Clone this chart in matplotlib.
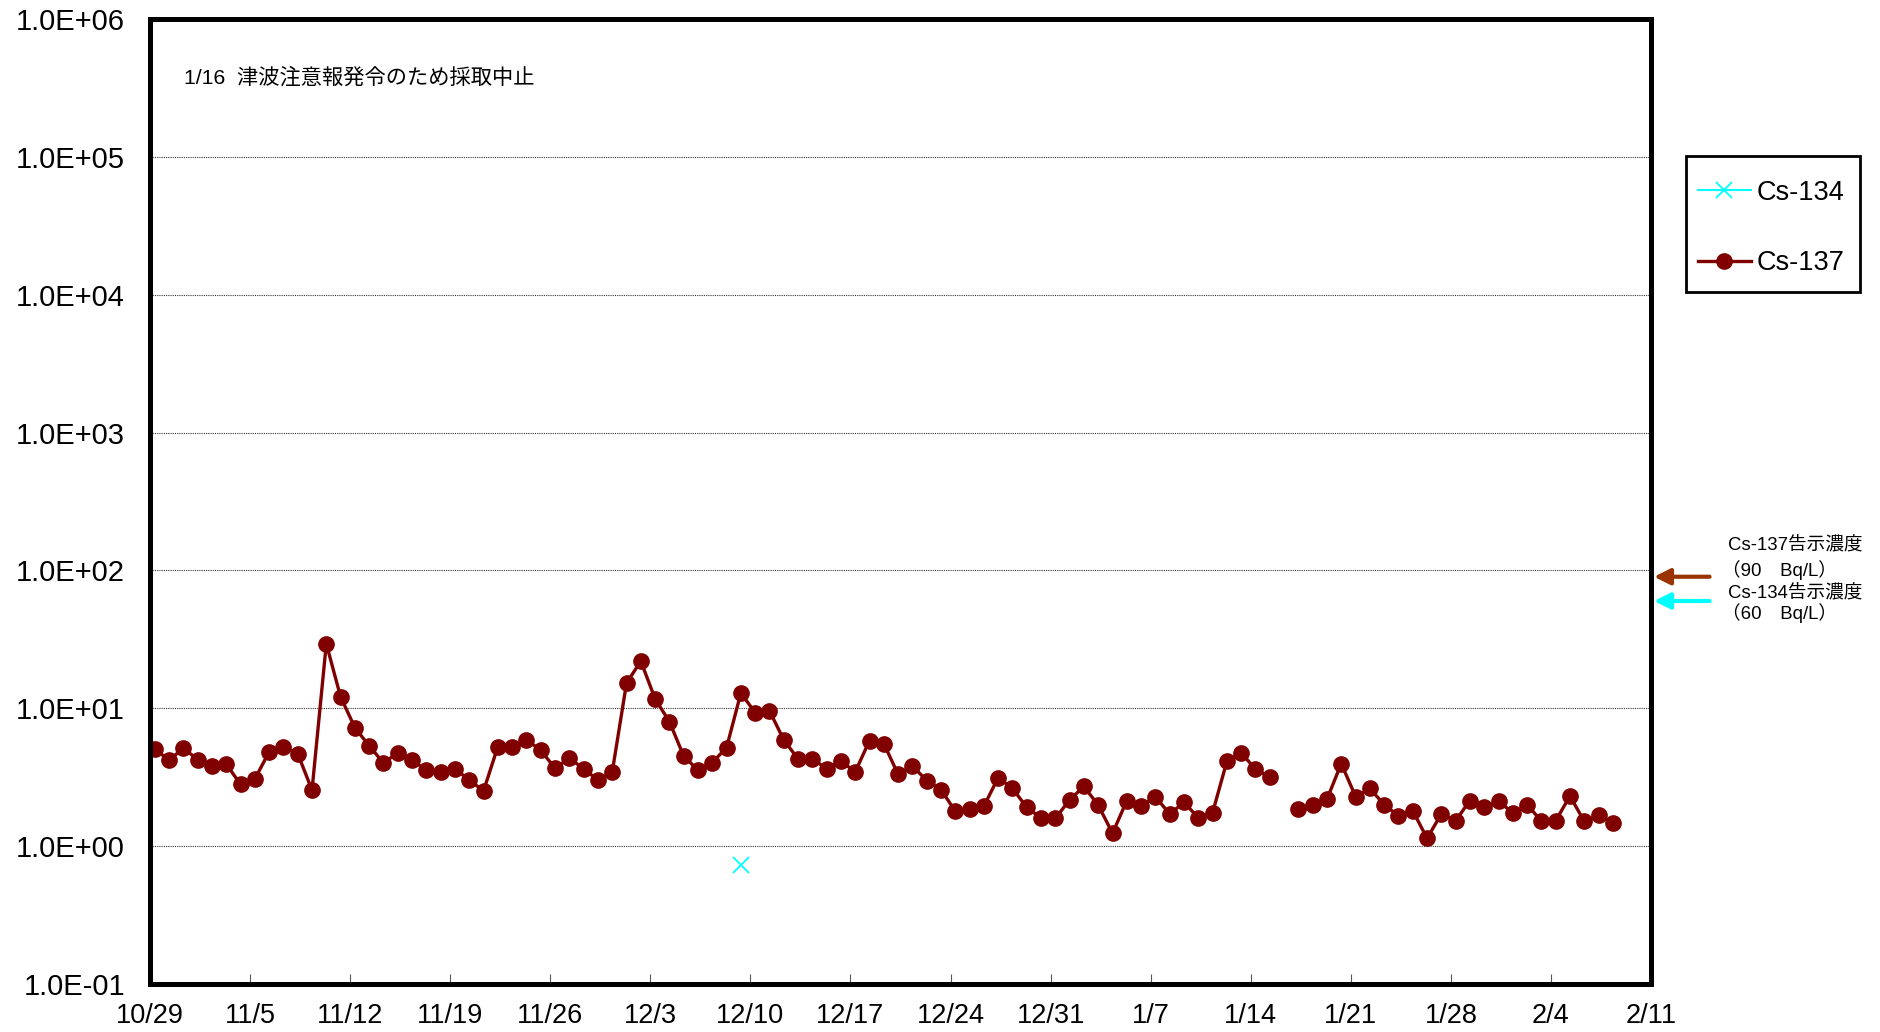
import numpy as np
import pandas as pd
import matplotlib
matplotlib.use("Agg")
import matplotlib.pyplot as plt
import matplotlib.dates as mdates
from matplotlib.ticker import FixedLocator, FuncFormatter, NullLocator
from matplotlib.lines import Line2D
from matplotlib.patches import Rectangle

plt.rcParams['font.family'] = ['Liberation Sans', 'Noto Sans CJK JP', 'DejaVu Sans']

# ---- data ----
start_date = "2021-10-29 08:00"   # daily sampling (morning)
cs137 = [5.07, 4.20, 5.13, 4.25, 3.84, 3.93, 2.81, 3.07, 4.83, 5.25,
         4.69, 2.55, 29.4, 12.1, 7.24, 5.33, 4.02, 4.75, 4.22, 3.55,
         3.46, 3.65, 3.01, 2.52, 5.27, 5.25, 5.93, 4.96, 3.67, 4.34,
         3.65, 3.01, 3.44, 15.2, 22.0, 11.7, 8.0, 4.51, 3.55, 4.04,
         5.19, 12.9, 9.3, 9.6, 5.90, 4.29, 4.29, 3.65, 4.13, 3.46,
         5.83, 5.54, 3.32, 3.82, 2.99, 2.57, 1.79, 1.85, 1.95, 3.14,
         2.62, 1.91, 1.60, 1.59, 2.17, 2.71, 1.98, 1.24, 2.14, 1.97,
         2.28, 1.71, 2.08, 1.60, 1.75, 4.13, 4.75, 3.61, 3.18, None,
         1.87, 2.00, 2.19, 3.97, 2.29, 2.62, 2.00, 1.66, 1.81, 1.14,
         1.71, 1.53, 2.14, 1.91, 2.14, 1.73, 2.00, 1.52, 1.53, 2.31,
         1.51, 1.67, 1.48]
cs134_dates = ["2021-12-09 08:00"]
cs134 = [0.73]

x_start = "2021-10-29"
x_end = "2022-02-11"
ytick_vals = [1e-1, 1e0, 1e1, 1e2, 1e3, 1e4, 1e5, 1e6]
limit_cs137 = 90
limit_cs134 = 60
note_text = "1/16  津波注意報発令のため採取中止"

dates = pd.date_range(start_date, periods=len(cs137), freq="D")
y137 = np.array([np.nan if v is None else v for v in cs137], dtype=float)
d134 = pd.to_datetime(cs134_dates)

# ---- figure ----
W, H = 1881, 1032
fig = plt.figure(figsize=(W / 100, H / 100), dpi=100)
L, R, T, B = 150, 1651, 19, 984
ax = fig.add_axes([L / W, 1 - B / H, (R - L) / W, (B - T) / H])

c134 = '#00FFFF'
c137 = '#800000'
ax.plot(d134, cs134, color=c134, marker='x', markersize=11,
        markeredgewidth=1.3, linewidth=1.5, linestyle='-')
ax.plot(dates, y137, color=c137, marker='o', markersize=11,
        linewidth=2.4, linestyle='-')

ax.set_yscale('log')
ax.set_ylim(1e-1, 1e6)
ax.set_xlim(pd.Timestamp(x_start), pd.Timestamp(x_end))

ax.yaxis.set_major_locator(FixedLocator(ytick_vals))
ax.yaxis.set_minor_locator(NullLocator())
ax.yaxis.set_major_formatter(FuncFormatter(lambda v, p: "{:.1E}".format(v)))
ax.xaxis.set_major_locator(FixedLocator(
    mdates.date2num(pd.date_range(x_start, x_end, freq="7D"))))
ax.xaxis.set_major_formatter(FuncFormatter(
    lambda v, p: "{}/{}".format(mdates.num2date(v).month, mdates.num2date(v).day)))

ax.tick_params(axis='y', length=0, pad=18, labelsize=21)
ax.tick_params(axis='x', direction='in', length=7, width=0.8, color='#555555',
               pad=14, labelsize=19.5)

ax.yaxis.grid(True, which='major', linestyle=(0, (1, 1)), color='#333333',
              linewidth=0.8)
for s in ax.spines.values():
    s.set_linewidth(3.6)
    s.set_color('black')

# legend (frame drawn separately)
lx0, ly0, lx1, ly1 = 1686, 156, 1860, 292
fig.patches.append(Rectangle((lx0 / W, 1 - ly1 / H), (lx1 - lx0) / W,
                             (ly1 - ly0) / H, transform=fig.transFigure,
                             fill=False, edgecolor='black', linewidth=2.0))
handles = [Line2D([], [], color=c134, marker='x', markersize=11,
                  markeredgewidth=1.3, linewidth=1.5),
           Line2D([], [], color=c137, marker='o', markersize=11,
                  linewidth=2.4)]
leg = fig.legend(handles, ['Cs-134', 'Cs-137'], loc='center',
                 bbox_to_anchor=((lx0 + lx1 - 4) / 2 / W, 1 - (ly0 + ly1 + 8) / 2 / H),
                 fontsize=19.5, frameon=False, borderpad=0,
                 labelspacing=1.65, handlelength=1.96, handletextpad=0.2,
                 borderaxespad=0)

# note
fig.text(184 / W, 1 - 77 / H, note_text, fontsize=15.3, va='center', ha='left')

# limit arrows
ytr = ax.get_yaxis_transform()
for val, col in [(limit_cs137, '#993300'), (limit_cs134, c134)]:
    ax.annotate('', xy=(1.002, val), xycoords=ytr,
                xytext=(1.039, val), textcoords=ytr,
                arrowprops=dict(arrowstyle='-|>', color=col, lw=3,
                                mutation_scale=24, shrinkA=0, shrinkB=0),
                annotation_clip=False)

fs_lim = 13.4
fig.text(1728 / W, 1 - 546 / H, "Cs-137告示濃度", fontsize=fs_lim, va='center')
fig.text(1722 / W, 1 - 570 / H, "（{}　Bq/L）".format(limit_cs137), fontsize=fs_lim, va='center')
fig.text(1728 / W, 1 - 594 / H, "Cs-134告示濃度", fontsize=fs_lim, va='center')
fig.text(1722 / W, 1 - 613 / H, "（{}　Bq/L）".format(limit_cs134), fontsize=fs_lim, va='center')

fig.savefig("out.png", dpi=100)
